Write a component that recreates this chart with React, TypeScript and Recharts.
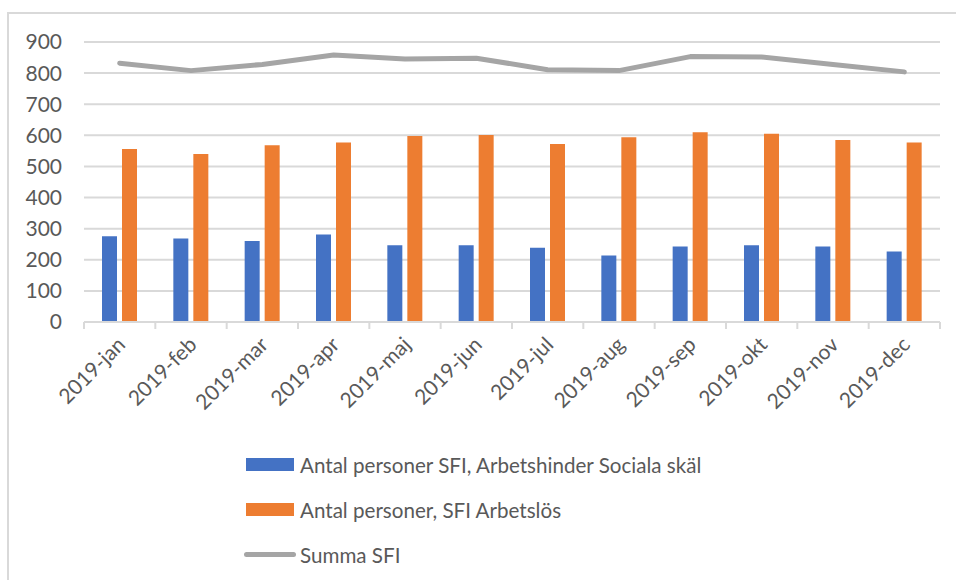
import { Bar, CartesianGrid, ComposedChart, Legend, Line, XAxis, YAxis } from 'recharts'

const months = [
  '2019-jan', '2019-feb', '2019-mar', '2019-apr', '2019-maj', '2019-jun',
  '2019-jul', '2019-aug', '2019-sep', '2019-okt', '2019-nov', '2019-dec',
]
const socialaSkal = [276, 268, 260, 281, 247, 247, 239, 214, 243, 247, 243, 227]
const arbetslos = [556, 540, 568, 577, 598, 601, 572, 594, 610, 605, 585, 577]
const summa = [832, 808, 828, 858, 845, 848, 811, 808, 853, 852, 828, 804]
const yTicks = [0, 100, 200, 300, 400, 500, 600, 700, 800, 900]

const seriesNames = {
  a: 'Antal personer SFI, Arbetshinder Sociala skäl',
  b: 'Antal personer, SFI Arbetslös',
  s: 'Summa SFI',
}

const BLUE = '#4472c4'
const ORANGE = '#ed7d31'
const GREY = '#a5a5a5'
const GRID = '#d9d9d9'
const TEXT = '#595959'
const FONT = 'Lato, "Liberation Sans", sans-serif'

const W = 956
const H = 580
const MARGIN = { top: 42, right: 16, left: 0, bottom: 0 }
const Y_AXIS_W = 84
const BAND = (W - Y_AXIS_W - MARGIN.right) / months.length

const data = months.map((m, i) => ({
  month: m,
  a: socialaSkal[i],
  b: arbetslos[i],
  s: summa[i],
}))

function MonthTick(props: any) {
  const { x, y, payload, index } = props
  const tx = x + 7
  const ty = y + 24
  return (
    <g>
      <line x1={x - BAND / 2} x2={x - BAND / 2} y1={y} y2={y + 7} stroke={GRID} strokeWidth={2} />
      {index === months.length - 1 && (
        <line x1={x + BAND / 2} x2={x + BAND / 2} y1={y} y2={y + 7} stroke={GRID} strokeWidth={2} />
      )}
      <text
        x={tx}
        y={ty}
        transform={`rotate(-45, ${tx}, ${ty})`}
        textAnchor="end"
        fill={TEXT}
        fontSize={21}
        fontFamily={FONT}
      >
        {payload.value}
      </text>
    </g>
  )
}

function LegendBox() {
  const rows = [
    { key: 'a', color: BLUE, line: false },
    { key: 'b', color: ORANGE, line: false },
    { key: 's', color: GREY, line: true },
  ] as const
  return (
    <div style={{ fontFamily: FONT, fontSize: 20.6, color: TEXT }}>
      {rows.map((r) => (
        <div key={r.key} style={{ height: 45, display: 'flex', alignItems: 'center' }}>
          {r.line ? (
            <div style={{ width: 52, height: 5, borderRadius: 3, background: r.color, marginRight: 4 }} />
          ) : (
            <div style={{ width: 48, height: 13, background: r.color, marginLeft: 2, marginRight: 6 }} />
          )}
          <span style={{ whiteSpace: 'nowrap' }}>{seriesNames[r.key]}</span>
        </div>
      ))}
    </div>
  )
}

export default function App() {
  return (
    <div style={{ position: 'fixed', left: 0, top: 0, width: W, height: H, background: '#fff' }}>
      <div
        style={{
          position: 'absolute',
          left: 7,
          top: 12,
          right: -4,
          bottom: -4,
          borderTop: `2px solid ${GRID}`,
          borderLeft: `2px solid ${GRID}`,
        }}
      />
      <ComposedChart width={W} height={H} data={data} margin={MARGIN} barGap={5} barSize={15}>
        <CartesianGrid vertical={false} stroke={GRID} strokeWidth={2} />
        <XAxis
          dataKey="month"
          height={H - 322}
          interval={0}
          tickSize={0}
          tickMargin={0}
          tickLine={false}
          axisLine={{ stroke: GRID, strokeWidth: 2 }}
          tick={<MonthTick />}
        />
        <YAxis
          width={Y_AXIS_W}
          domain={[0, 900]}
          ticks={yTicks}
          axisLine={false}
          tickLine={false}
          tickSize={0}
          tickMargin={22}
          tick={{ fill: TEXT, fontSize: 21, fontFamily: FONT }}
        />
        <Legend
          layout="vertical"
          align="center"
          verticalAlign="middle"
          content={<LegendBox />}
          wrapperStyle={{ left: 244, top: 442, width: 'auto', height: 'auto' }}
        />
        <Bar dataKey="a" name={seriesNames.a} fill={BLUE} isAnimationActive={false} />
        <Bar dataKey="b" name={seriesNames.b} fill={ORANGE} isAnimationActive={false} />
        <Line
          dataKey="s"
          name={seriesNames.s}
          stroke={GREY}
          strokeWidth={5}
          strokeLinecap="round"
          strokeLinejoin="round"
          dot={false}
          activeDot={false}
          isAnimationActive={false}
        />
      </ComposedChart>
    </div>
  )
}
